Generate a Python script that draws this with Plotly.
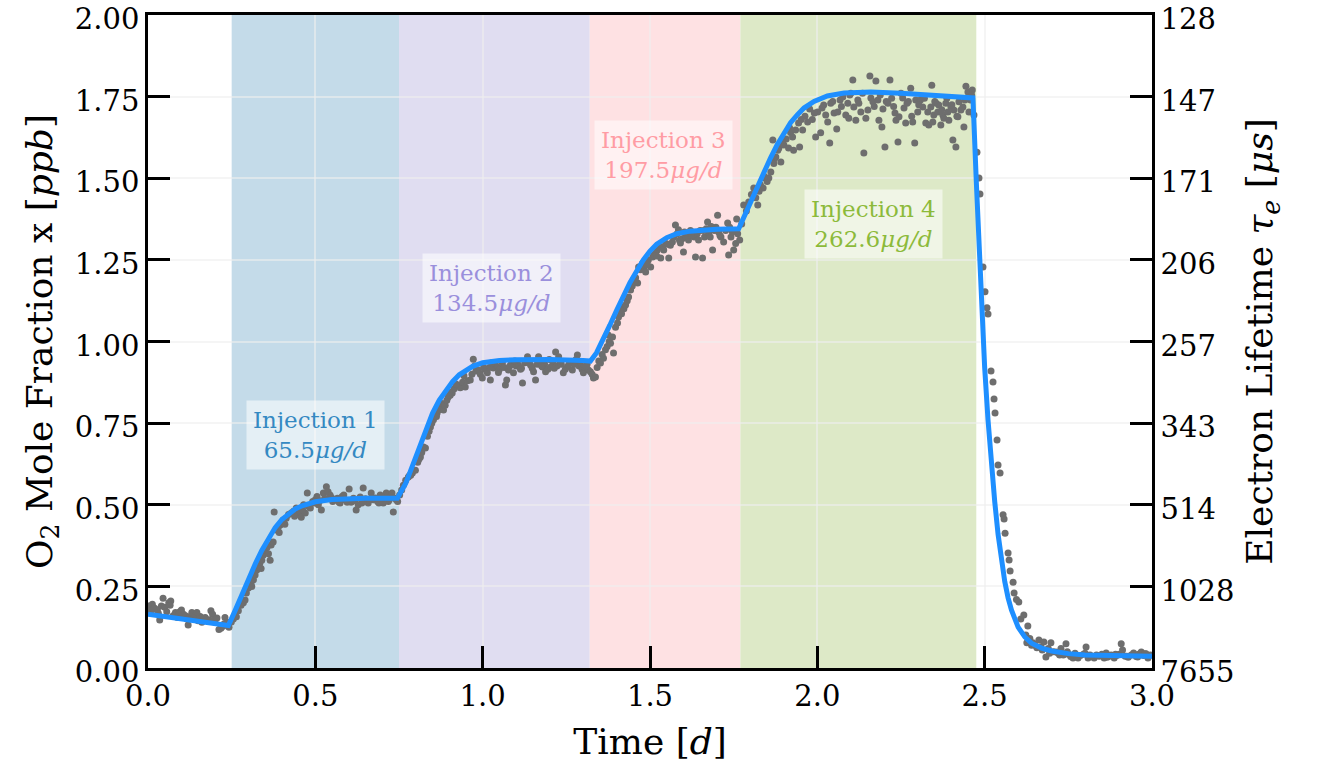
import plotly.graph_objects as go

# ---------------- data ----------------
fit_t = [0.00, 0.05, 0.10, 0.15, 0.20, 0.24, 0.26, 0.28, 0.30, 0.32, 0.34, 0.36, 0.38, 0.40, 0.42, 0.44,
         0.46, 0.48, 0.50, 0.55, 0.60, 0.65, 0.70, 0.745,
         0.77, 0.79, 0.81, 0.83, 0.85, 0.87, 0.89, 0.91, 0.93, 0.95, 0.97, 1.00, 1.05, 1.10, 1.20, 1.30, 1.322,
         1.34, 1.36, 1.38, 1.40, 1.42, 1.44, 1.46, 1.48, 1.50, 1.52, 1.55, 1.58, 1.62, 1.70, 1.765,
         1.78, 1.80, 1.82, 1.84, 1.86, 1.88, 1.90, 1.92, 1.94, 1.96, 1.99, 2.03, 2.08, 2.16, 2.25, 2.35, 2.45, 2.465,
         2.475, 2.48, 2.485, 2.49, 2.50, 2.51, 2.52, 2.53, 2.54, 2.55, 2.56, 2.57, 2.58, 2.60, 2.62, 2.64, 2.67,
         2.70, 2.75, 2.80, 2.90, 3.00]
fit_x = [0.165, 0.158, 0.151, 0.144, 0.137, 0.130, 0.175, 0.225, 0.272, 0.318, 0.360, 0.398, 0.430, 0.455, 0.473, 0.487,
         0.497, 0.504, 0.509, 0.516, 0.519, 0.520, 0.520, 0.520,
         0.565, 0.620, 0.680, 0.735, 0.780, 0.820, 0.850, 0.877, 0.898, 0.913, 0.924, 0.935, 0.942, 0.944, 0.945, 0.942, 0.940,
         0.965, 1.005, 1.050, 1.095, 1.140, 1.180, 1.215, 1.250, 1.277, 1.298, 1.318, 1.330, 1.338, 1.344, 1.345,
         1.380, 1.425, 1.473, 1.520, 1.562, 1.603, 1.640, 1.670, 1.694, 1.715, 1.735, 1.752, 1.761, 1.764, 1.760, 1.755, 1.748, 1.746,
         1.49, 1.36, 1.23, 1.12, 0.92, 0.76, 0.62, 0.51, 0.41, 0.33, 0.265, 0.215, 0.178, 0.125, 0.095, 0.076, 0.061,
         0.052, 0.044, 0.040, 0.037, 0.036]

data_t = [
    0.003, 0.008, 0.013, 0.020, 0.028, 0.035, 0.040, 0.045, 0.050, 0.056, 0.062, 0.068, 0.075, 0.082, 0.088, 0.095,
    0.100, 0.106, 0.112, 0.120, 0.126, 0.131, 0.137, 0.143, 0.150, 0.156, 0.161, 0.167, 0.175, 0.182, 0.188, 0.193,
    0.200, 0.206, 0.212, 0.218, 0.224, 0.230, 0.236, 0.242,
    0.249, 0.255, 0.264, 0.270, 0.278, 0.285, 0.290, 0.294, 0.300, 0.308, 0.315, 0.320, 0.325, 0.329, 0.334, 0.340,
    0.344, 0.350, 0.356, 0.365, 0.368, 0.374, 0.377, 0.383, 0.389, 0.395, 0.400, 0.404, 0.413, 0.420, 0.428, 0.435,
    0.443, 0.450, 0.455, 0.458, 0.465, 0.470, 0.476, 0.480, 0.485, 0.492, 0.500, 0.505, 0.509, 0.518, 0.524, 0.528,
    0.533, 0.538, 0.544, 0.552, 0.559, 0.566, 0.574, 0.580, 0.589, 0.595, 0.601, 0.607, 0.614, 0.622, 0.628, 0.634,
    0.643, 0.650, 0.658, 0.667, 0.673, 0.679, 0.686, 0.694, 0.703, 0.708, 0.712, 0.718, 0.724, 0.729, 0.733, 0.738,
    0.742, 0.746,
    0.752, 0.758, 0.763, 0.770, 0.778, 0.785, 0.790, 0.799, 0.806, 0.814, 0.818, 0.823, 0.829, 0.835, 0.844, 0.848,
    0.853, 0.858, 0.864, 0.868, 0.873, 0.878, 0.883, 0.888, 0.893, 0.897, 0.903, 0.909, 0.915, 0.924, 0.933, 0.940,
    0.948, 0.955, 0.963, 0.968, 0.972, 0.980, 0.987, 0.993, 0.999, 1.006, 1.014, 1.020, 1.023, 1.032, 1.038, 1.044,
    1.050, 1.059, 1.064, 1.068, 1.072, 1.077, 1.085, 1.092, 1.100, 1.107, 1.113, 1.119, 1.126, 1.134, 1.143, 1.148,
    1.152, 1.158, 1.163, 1.167, 1.173, 1.179, 1.185, 1.188, 1.195, 1.203, 1.210, 1.218, 1.222, 1.227, 1.235, 1.241,
    1.247, 1.253, 1.260, 1.268, 1.275, 1.283, 1.288, 1.292, 1.297, 1.301, 1.306, 1.312, 1.316, 1.322,
    1.327, 1.331, 1.337, 1.342, 1.347, 1.352, 1.357, 1.361, 1.367, 1.372, 1.378, 1.382, 1.388, 1.391, 1.397, 1.403,
    1.406, 1.412, 1.418, 1.422, 1.427, 1.432, 1.436, 1.442, 1.447, 1.451, 1.457, 1.463, 1.466, 1.472, 1.478, 1.483,
    1.487, 1.495, 1.502, 1.508, 1.512, 1.517, 1.522, 1.526, 1.532, 1.537, 1.541, 1.548, 1.556, 1.561, 1.567, 1.571,
    1.576, 1.581, 1.585, 1.591, 1.596, 1.600, 1.606, 1.612, 1.615, 1.621, 1.627, 1.632, 1.636, 1.641, 1.645, 1.650,
    1.657, 1.663, 1.668, 1.672, 1.675, 1.680, 1.687, 1.692, 1.697, 1.702, 1.705, 1.712, 1.720, 1.726, 1.732, 1.735,
    1.742, 1.750, 1.756, 1.762, 1.768,
    1.774, 1.780, 1.788, 1.795, 1.803, 1.810, 1.816, 1.822, 1.830, 1.838, 1.845, 1.850, 1.855, 1.861, 1.867, 1.872,
    1.876, 1.882, 1.885, 1.891, 1.900, 1.907, 1.914, 1.920, 1.926, 1.929, 1.935, 1.944, 1.947, 1.956, 1.963, 1.971,
    1.977, 1.985, 1.995, 2.001, 2.010, 2.019, 2.025, 2.031, 2.037, 2.040, 2.050, 2.058, 2.061, 2.068, 2.076, 2.085,
    2.091, 2.094, 2.100, 2.106, 2.109, 2.115, 2.121, 2.130, 2.139, 2.145, 2.151, 2.157, 2.160, 2.166, 2.175, 2.181,
    2.184, 2.193, 2.196, 2.202, 2.211, 2.217, 2.222, 2.228, 2.235, 2.241, 2.244, 2.255, 2.259, 2.264, 2.272, 2.279,
    2.285, 2.291, 2.294, 2.300, 2.308, 2.315, 2.324, 2.330, 2.333, 2.339, 2.342, 2.345, 2.348, 2.355, 2.360, 2.363,
    2.369, 2.375, 2.378, 2.384, 2.390, 2.393, 2.399, 2.405, 2.408, 2.414, 2.420, 2.423, 2.429, 2.435, 2.438, 2.444,
    2.450, 2.453, 2.458, 2.463, 2.468,
    2.477, 2.483, 2.486, 2.495, 2.501, 2.507, 2.510, 2.519, 2.525, 2.528, 2.531, 2.537, 2.540, 2.546, 2.555, 2.558,
    2.561, 2.570, 2.573, 2.576, 2.585, 2.588, 2.595, 2.602, 2.608, 2.617, 2.623, 2.626, 2.629, 2.635, 2.644, 2.650,
    2.656, 2.662, 2.668, 2.677, 2.683, 2.690, 2.698, 2.705, 2.713, 2.720, 2.728, 2.735, 2.743, 2.750, 2.757, 2.764,
    2.770, 2.779, 2.786, 2.795, 2.803, 2.809, 2.815, 2.821, 2.827, 2.834, 2.842, 2.850, 2.857, 2.863, 2.870, 2.878,
    2.887, 2.895, 2.902, 2.908, 2.912, 2.920, 2.929, 2.938, 2.945, 2.953, 2.960, 2.968, 2.975, 2.982, 2.988, 2.995,
    # additional points read from the denser parts of the cloud
    0.017, 0.031, 0.066, 0.091, 0.116, 0.146, 0.171, 0.197, 0.227,
    0.310, 0.338, 0.360, 0.392, 0.409, 0.438, 0.462, 0.497, 0.513, 0.548, 0.571, 0.585, 0.618, 0.639, 0.662, 0.690,
    0.699, 0.721,
    0.782, 0.810, 0.840, 0.862, 0.900, 0.920, 0.944, 0.976, 1.003, 1.027, 1.047, 1.081, 1.096, 1.116, 1.138, 1.176,
    1.199, 1.214, 1.231, 1.257, 1.279, 1.309,
    1.375, 1.415, 1.455, 1.492, 1.520, 1.552, 1.588, 1.603, 1.624, 1.660, 1.683, 1.709, 1.738, 1.746, 1.759,
    1.826, 1.842, 1.870, 1.896, 1.917, 1.952, 1.991, 2.014, 2.046, 2.072, 2.097, 2.124, 2.135, 2.170, 2.188, 2.206,
    2.232, 2.250, 2.268, 2.282, 2.303, 2.320, 2.351, 2.372, 2.387, 2.402, 2.417, 2.441, 2.461,
    2.640, 2.672, 2.694, 2.724, 2.747, 2.775, 2.800, 2.838, 2.866, 2.891, 2.925, 2.957, 2.979,
]
data_x = [
    0.190, 0.175, 0.195, 0.183, 0.178, 0.147, 0.190, 0.214, 0.186, 0.172, 0.200, 0.205, 0.160, 0.170, 0.155, 0.172,
    0.178, 0.165, 0.160, 0.132, 0.158, 0.170, 0.150, 0.162, 0.145, 0.158, 0.140, 0.150, 0.145, 0.148, 0.175, 0.165,
    0.140, 0.153, 0.118, 0.122, 0.128, 0.155, 0.140, 0.125,
    0.141, 0.150, 0.157, 0.175, 0.192, 0.200, 0.208, 0.230, 0.245, 0.260, 0.270, 0.285, 0.300, 0.310, 0.320, 0.330,
    0.345, 0.361, 0.370, 0.330, 0.377, 0.386, 0.478, 0.423, 0.430, 0.438, 0.445, 0.453, 0.459, 0.470, 0.475, 0.480,
    0.490, 0.470, 0.478, 0.462, 0.500, 0.475, 0.536, 0.495, 0.490, 0.510, 0.515, 0.525, 0.500, 0.484, 0.536, 0.520,
    0.555, 0.540, 0.530, 0.510, 0.515, 0.520, 0.505, 0.525, 0.515, 0.508, 0.548, 0.508, 0.520, 0.484, 0.500, 0.524,
    0.551, 0.518, 0.505, 0.536, 0.515, 0.521, 0.510, 0.530, 0.505, 0.520, 0.536, 0.510, 0.524, 0.536, 0.478, 0.520,
    0.515, 0.510,
    0.530, 0.545, 0.560, 0.575, 0.585, 0.590, 0.597, 0.606, 0.630, 0.646, 0.660, 0.677, 0.674, 0.710, 0.738, 0.750,
    0.760, 0.770, 0.781, 0.790, 0.796, 0.810, 0.790, 0.805, 0.820, 0.830, 0.835, 0.842, 0.855, 0.867, 0.858, 0.875,
    0.861, 0.880, 0.882, 0.900, 0.946, 0.910, 0.913, 0.900, 0.888, 0.915, 0.904, 0.920, 0.882, 0.919, 0.930, 0.922,
    0.915, 0.934, 0.920, 0.867, 0.882, 0.913, 0.930, 0.904, 0.925, 0.928, 0.915, 0.873, 0.935, 0.953, 0.928, 0.918,
    0.907, 0.882, 0.930, 0.953, 0.940, 0.922, 0.930, 0.907, 0.915, 0.922, 0.935, 0.968, 0.925, 0.953, 0.930, 0.904,
    0.915, 0.922, 0.935, 0.913, 0.930, 0.959, 0.925, 0.934, 0.915, 0.904, 0.920, 0.930, 0.913, 0.907,
    0.900, 0.888, 0.891, 0.920, 0.940, 0.934, 0.960, 0.949, 0.975, 0.985, 1.000, 0.995, 1.014, 0.965, 1.044, 1.057,
    1.075, 1.090, 1.106, 1.100, 1.112, 1.125, 1.136, 1.158, 1.170, 1.188, 1.195, 1.179, 1.228, 1.220, 1.240, 1.230,
    1.213, 1.250, 1.228, 1.259, 1.265, 1.271, 1.280, 1.289, 1.256, 1.290, 1.280, 1.300, 1.256, 1.295, 1.305, 1.320,
    1.357, 1.330, 1.342, 1.302, 1.315, 1.274, 1.320, 1.330, 1.311, 1.340, 1.332, 1.320, 1.259, 1.330, 1.311, 1.340,
    1.256, 1.320, 1.345, 1.366, 1.332, 1.320, 1.280, 1.340, 1.350, 1.387, 1.335, 1.320, 1.305, 1.340, 1.363, 1.265,
    1.320, 1.280, 1.300, 1.330, 1.311,
    1.360, 1.418, 1.400, 1.427, 1.450, 1.470, 1.440, 1.418, 1.480, 1.470, 1.500, 1.490, 1.501, 1.519, 1.617, 1.560,
    1.565, 1.586, 1.593, 1.550, 1.602, 1.620, 1.593, 1.640, 1.626, 1.586, 1.648, 1.669, 1.596, 1.648, 1.690, 1.672,
    1.712, 1.680, 1.626, 1.703, 1.639, 1.724, 1.694, 1.672, 1.608, 1.730, 1.700, 1.651, 1.703, 1.740, 1.749, 1.694,
    1.730, 1.684, 1.760, 1.801, 1.718, 1.678, 1.740, 1.703, 1.577, 1.684, 1.709, 1.813, 1.746, 1.734, 1.798, 1.740,
    1.678, 1.657, 1.712, 1.596, 1.730, 1.801, 1.745, 1.720, 1.678, 1.611, 1.688, 1.746, 1.715, 1.669, 1.735, 1.776,
    1.672, 1.608, 1.740, 1.703, 1.740, 1.718, 1.669, 1.703, 1.663, 1.718, 1.785, 1.672, 1.694, 1.730, 1.703, 1.724,
    1.663, 1.694, 1.684, 1.730, 1.703, 1.678, 1.720, 1.617, 1.709, 1.596, 1.688, 1.734, 1.709, 1.718, 1.657, 1.782,
    1.764, 1.703, 1.740, 1.770, 1.694,
    1.580, 1.501, 1.452, 1.228, 1.152, 1.103, 1.084, 0.910, 0.876, 0.824, 0.781, 0.698, 0.622, 0.597, 0.469, 0.456,
    0.413, 0.352, 0.331, 0.297, 0.263, 0.230, 0.210, 0.202, 0.150, 0.162, 0.101, 0.077, 0.129, 0.090, 0.077, 0.070,
    0.062, 0.086, 0.065, 0.080, 0.034, 0.060, 0.077, 0.050, 0.049, 0.045, 0.060, 0.040, 0.074, 0.042, 0.035, 0.031,
    0.045, 0.031, 0.038, 0.042, 0.064, 0.031, 0.040, 0.035, 0.031, 0.040, 0.036, 0.042, 0.031, 0.046, 0.035, 0.040,
    0.031, 0.038, 0.042, 0.074, 0.055, 0.036, 0.033, 0.040, 0.046, 0.035, 0.042, 0.049, 0.038, 0.044, 0.031, 0.040,
    # additional points
    0.180, 0.168, 0.192, 0.163, 0.150, 0.170, 0.155, 0.148, 0.135,
    0.250, 0.305, 0.350, 0.415, 0.440, 0.465, 0.485, 0.505, 0.512, 0.522, 0.508, 0.530, 0.512, 0.505, 0.515, 0.505,
    0.525, 0.515,
    0.590, 0.640, 0.725, 0.770, 0.845, 0.870, 0.895, 0.925, 0.920, 0.935, 0.905, 0.925, 0.940, 0.918, 0.935, 0.925,
    0.945, 0.918, 0.940, 0.928, 0.945, 0.925,
    1.020, 1.085, 1.185, 1.235, 1.262, 1.298, 1.310, 1.335, 1.325, 1.340, 1.352, 1.325, 1.350, 1.335, 1.375,
    1.460, 1.505, 1.545, 1.610, 1.655, 1.680, 1.700, 1.715, 1.735, 1.720, 1.755, 1.730, 1.760, 1.720, 1.755, 1.735,
    1.700, 1.760, 1.730, 1.690, 1.725, 1.745, 1.735, 1.710, 1.745, 1.725, 1.690, 1.740, 1.755,
    0.070, 0.055, 0.045, 0.040, 0.050, 0.036, 0.045, 0.038, 0.033, 0.042, 0.036, 0.034, 0.044,
]

regions_start = [0.25, 0.75, 1.32, 1.77]
regions_end = [0.75, 1.32, 1.77, 2.475]
region_fill = ["#c4dbe9", "#e0ddf1", "#fee1e3", "#dde9c7"]
label_text = ["Injection 1<br>65.5<i>μg/d</i>", "Injection 2<br>134.5<i>μg/d</i>",
              "Injection 3<br>197.5<i>μg/d</i>", "Injection 4<br>262.6<i>μg/d</i>"]
label_x = [0.50, 1.026, 1.54, 2.169]
label_y = [0.713, 1.164, 1.571, 1.36]
label_color = ["#3489c2", "#9a8fdc", "#ff9ca4", "#8cba3a"]

y_ticks = [0.0, 0.25, 0.5, 0.75, 1.0, 1.25, 1.5, 1.75, 2.0]
y_ticktext = ["0.00", "0.25", "0.50", "0.75", "1.00", "1.25", "1.50", "1.75", "2.00"]
lifetime_ticktext = ["7655", "1028", "514", "343", "257", "206", "171", "147", "128"]
x_ticks = [0.0, 0.5, 1.0, 1.5, 2.0, 2.5, 3.0]
x_ticktext = ["0.0", "0.5", "1.0", "1.5", "2.0", "2.5", "3.0"]

# ---------------- figure ----------------
FONT = "DejaVu Serif"
TICK_SIZE = 29
TITLE_SIZE = 36
fig = go.Figure()

fig.add_trace(go.Scatter(x=data_t, y=data_x, mode="markers",
                         marker=dict(color="#6e6e6e", size=7, line=dict(width=0)),
                         showlegend=False, hoverinfo="skip"))
fig.add_trace(go.Scatter(x=fit_t, y=fit_x, mode="lines",
                         line=dict(color="#1e8fff", width=5), showlegend=False))
# invisible trace for right axis
fig.add_trace(go.Scatter(x=[0, 3], y=[0, 2], yaxis="y2", mode="markers",
                         marker=dict(opacity=0), showlegend=False, hoverinfo="skip"))

for s, e, c in zip(regions_start, regions_end, region_fill):
    fig.add_shape(type="rect", xref="x", yref="y", x0=s, x1=e, y0=0, y1=2,
                  fillcolor=c, line=dict(width=0), layer="below")

for txt, xx, yy, col in zip(label_text, label_x, label_y, label_color):
    fig.add_annotation(x=xx, y=yy, xref="x", yref="y", text=txt, showarrow=False,
                       font=dict(family=FONT, size=23, color=col),
                       bgcolor="rgba(255,255,255,0.55)", borderpad=6, align="center")

axis_common = dict(showline=True, linecolor="black", linewidth=2.5,
                   ticks="inside", ticklen=22, tickwidth=2.5, tickcolor="black",
                   tickfont=dict(family=FONT, size=TICK_SIZE, color="black"),
                   gridcolor="rgba(238,238,238,0.6)", gridwidth=1.5, zeroline=False,
                   automargin=False, ticklabeloverflow="allow")

fig.update_layout(
    width=1319, height=771,
    margin=dict(l=148, r=167, t=15, b=103),
    paper_bgcolor="white", plot_bgcolor="white",
    xaxis=dict(range=[0, 3], tickvals=x_ticks, ticktext=x_ticktext, mirror=True,
               title=dict(text="Time [<i>d</i>]", font=dict(family=FONT, size=TITLE_SIZE, color="black"),
                          standoff=18),
               **axis_common),
    yaxis=dict(range=[0, 2], tickvals=y_ticks, ticktext=y_ticktext, ticklabelshift=4,
               title=dict(text="O<sub>2</sub> Mole Fraction x [<i>ppb</i>]",
                          font=dict(family=FONT, size=TITLE_SIZE, color="black"), standoff=12),
               **axis_common),
    yaxis2=dict(range=[0, 2], overlaying="y", side="right", tickvals=y_ticks, ticktext=lifetime_ticktext,
                showgrid=False, ticklabelshift=4,
                title=dict(text="Electron Lifetime <i>τ<sub>e</sub></i> [<i>μs</i>]",
                           font=dict(family=FONT, size=TITLE_SIZE, color="black"), standoff=14),
                **{k: v for k, v in axis_common.items() if k not in ("gridcolor", "gridwidth")}),
    font=dict(family=FONT),
)

fig.write_html("out.html")
